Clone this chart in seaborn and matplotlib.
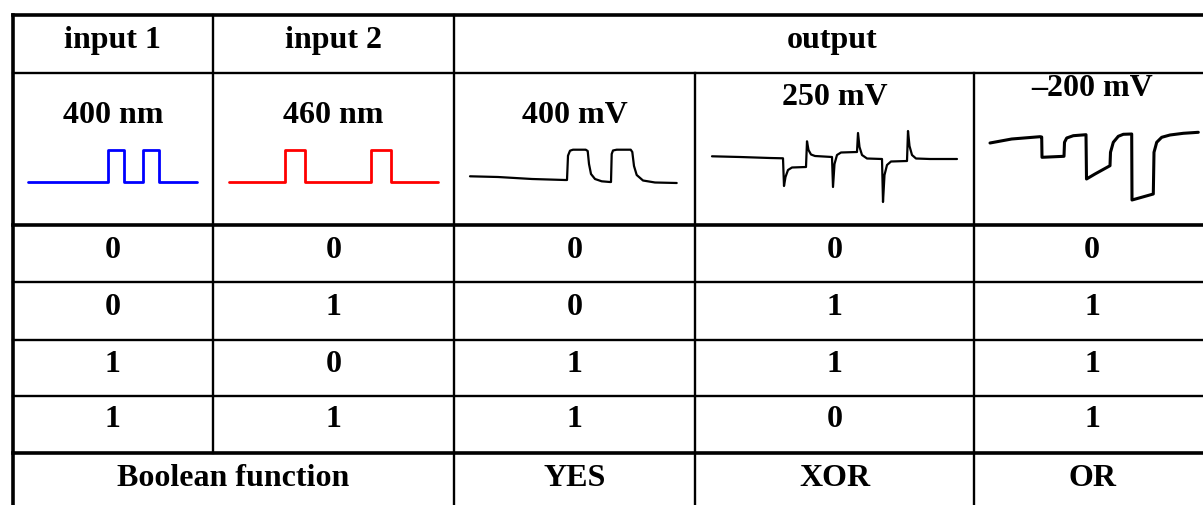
import numpy as np
import pandas as pd
import matplotlib
matplotlib.use("Agg")
import matplotlib.pyplot as plt
import seaborn as sns

# ---- table content ----
header_top = ["input 1", "input 2", "output"]
header_sub = ["400 nm", "460 nm", "400 mV", "250 mV", "\u2013200 mV"]
input1 = [0, 0, 1, 1]
input2 = [0, 1, 0, 1]
out_yes = [0, 0, 1, 1]
out_xor = [0, 1, 1, 0]
out_or = [0, 1, 1, 1]
functions = ["Boolean function", "YES", "XOR", "OR"]

# ---- waveforms (time a.u., signal a.u.) ----
in1_edges = [80, 96, 115, 131]      # on/off times of the 400 nm light
in1_span = 169
in2_edges = [56, 76, 142, 162]      # on/off times of the 460 nm light
in2_span = 209

yes_t = [0, 28, 62, 95, 97, 98, 100, 103, 115.7, 117.7, 119, 121, 125, 131.7, 140, 141,
         141.7, 143, 146.7, 160.7, 162.3, 164, 166.7, 173, 185, 206.7]
yes_v = [7.7, 7, 5, 4, 4, 28.3, 33.3, 34.3, 34.3, 33, 20, 10, 5, 2.7, 2, 2,
         30, 33.5, 34.3, 34.3, 32, 18, 9, 3.5, 1.5, 1]

xor_t = [0, 28, 58, 71, 72, 73.5, 76, 80, 94, 95, 96.5, 99, 103, 120, 121, 122.5, 125, 129,
         145, 146, 147.5, 150, 155, 170, 171, 172.5, 175, 179, 195, 196, 197.5, 200, 204,
         218, 245]
xor_v = [47.7, 47, 46, 45.7, 18, 27, 34, 36.5, 37, 62.7, 54, 49.5, 48, 47, 17, 40, 49, 51.5,
         52, 71, 57, 49, 45.5, 45, 2, 29, 39, 42.5, 43, 73, 58, 49, 45.5,
         45, 45]

or_t = [0, 21.7, 50, 51.7, 52, 74, 74.5, 76.7, 83.3, 96, 96.5, 105, 120, 120.5, 123.3,
        128.3, 133.3, 141.7, 142, 163.3, 164, 166.7, 171.7, 180, 193.3, 208.3]
or_v = [61, 65, 67.3, 67, 46.7, 47.7, 61.7, 66, 68.3, 69.3, 25, 30, 38.3, 51.7, 61.7,
        67.7, 69.7, 70, 4, 10, 51.7, 61.7, 66.7, 69, 70.7, 71.7]

W, H = 1203, 506
sns.set_theme(style="white")
plt.rcParams['font.family'] = ['Liberation Serif', 'DejaVu Serif']

fig = plt.figure(figsize=(W / 100, H / 100), dpi=100)
ax = fig.add_axes([0, 0, 1, 1])
ax.set_xlim(0, W)
ax.set_ylim(H, 0)
ax.axis('off')

# ---- grid ----
cols = [12.5, 213, 454, 695, 974, 1210]
rows = [15.5, 73.5, 226, 283, 341, 397, 454, 520]
thick, thin = 2.6, 1.7
kw = dict(color='black', solid_capstyle='projecting')
ax.plot([cols[0], 1230], [rows[0]] * 2, lw=thick, **kw)
ax.plot([cols[0]] * 2, [rows[0], rows[-1]], lw=thick, **kw)
ax.plot([cols[0], 1230], [rows[1]] * 2, lw=thin, **kw)
ax.plot([cols[0], 1230], [rows[2]] * 2, lw=thick, **kw)
for y in rows[3:6]:
    ax.plot([cols[0], 1230], [y, y], lw=thin, **kw)
ax.plot([cols[0], 1230], [rows[6]] * 2, lw=thick, **kw)
ax.plot([cols[1]] * 2, [rows[0], rows[6]], lw=thin, **kw)
ax.plot([cols[2]] * 2, [rows[0], rows[-1]], lw=thin, **kw)
for x in cols[3:5]:
    ax.plot([x, x], [rows[1], rows[-1]], lw=thin, **kw)

# ---- text ----
tkw = dict(fontsize=23, fontweight='bold', ha='center', va='baseline', color='black')
centers = [(cols[i] + cols[i + 1]) / 2 for i in range(5)]
ax.text(centers[0], 48, header_top[0], **tkw)
ax.text(centers[1], 48, header_top[1], **tkw)
ax.text((cols[2] + cols[5]) / 2, 48, header_top[2], **tkw)
sub_base = [123, 123, 123, 105, 96]
for c, s, b in zip(centers, header_sub, sub_base):
    ax.text(c, b, s, **tkw)

table = pd.DataFrame({"in1": input1, "in2": input2, "yes": out_yes,
                      "xor": out_xor, "or": out_or})
row_base = [258, 315, 372, 427]
for i, b in enumerate(row_base):
    for j, col in enumerate(table.columns):
        ax.text(centers[j], b, str(table.iloc[i, j]), **tkw)
ax.text((cols[0] + cols[2]) / 2, 486, functions[0], **tkw)
for j, f in enumerate(functions[1:]):
    ax.text(centers[j + 2], 486, f, **tkw)


# ---- waveforms in inset axes ----
def steps(edges, span):
    t, v = [0], [0]
    for k, e in enumerate(edges):
        lvl = 1 - (k % 2)
        t += [e, e]
        v += [1 - lvl, lvl]
    t.append(span)
    v.append(0)
    return t, v


def trace(t, v, box, color, lw):
    x0, y0, x1, y1 = box
    a = fig.add_axes([x0 / W, 1 - y1 / H, (x1 - x0) / W, (y1 - y0) / H])
    df = pd.DataFrame({"t": t, "v": v})
    sns.lineplot(data=df, x="t", y="v", sort=False, estimator=None, ax=a,
                 color=color, lw=lw, clip_on=False)
    a.set_xlim(min(t), max(t))
    a.set_ylim(min(v), max(v))
    a.axis('off')


t1, v1 = steps(in1_edges, in1_span)
t2, v2 = steps(in2_edges, in2_span)
trace(t1, v1, (28, 151, 197, 183), (0, 0, 1), 2.0)
trace(t2, v2, (229, 151, 438, 183), (1, 0, 0), 2.0)
trace(yes_t, yes_v, (470, 150.7, 676.7, 184), 'black', 1.6)
trace(xor_t, xor_v, (712, 132, 957, 203), 'black', 1.6)
trace(or_t, or_v, (990, 133.3, 1198.3, 201), 'black', 2.2)

fig.savefig("out.png", dpi=100)
